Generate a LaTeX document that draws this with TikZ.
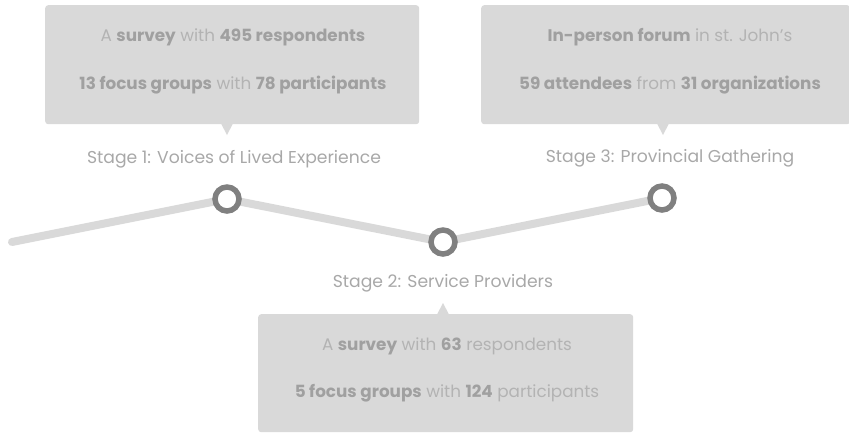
\documentclass[tikz,border=0pt]{standalone}
\usepackage{fontspec}
\setmainfont{Poppins}
\definecolor{boxfill}{HTML}{D9D9D9}
\definecolor{txtlight}{HTML}{B3B3B3}
\definecolor{txtbold}{HTML}{A0A0A0}
\definecolor{lbl}{HTML}{A8A8A8}
\definecolor{ring}{HTML}{808080}
\definecolor{track}{HTML}{D9D9D9}
\begin{document}
\begin{tikzpicture}[x=1pt,y=-1pt,
  infobox/.style={fill=boxfill, rounded corners=3pt, inner sep=0pt, anchor=north west},
  boxtext/.style={font=\fontsize{16.8}{18}\selectfont, text=txtlight, inner sep=0pt},
  stagelbl/.style={font=\fontsize{17.2}{19}\selectfont, text=lbl, inner sep=0pt},
  ringnode/.style={circle, draw=ring, line width=5.5pt, fill=white, minimum size=24pt, inner sep=0pt},
  trackline/.style={draw=track, line width=8pt, line cap=round, line join=round}
]
\newcommand{\bt}[1]{\textcolor{txtbold}{\textbf{#1}}}
\useasboundingbox (0,0) rectangle (849,432);

% boxes
\node[infobox, minimum width=374pt, minimum height=119pt] (b1) at (45,5) {};
\node[infobox, minimum width=369pt, minimum height=119pt] (b3) at (481,5) {};
\node[infobox, minimum width=375pt, minimum height=118pt] (b2) at (258,314) {};

% pointers
\coordinate (t1) at (227,135);
\coordinate (t3) at (663,135);
\coordinate (t2) at (443,303);
\fill[boxfill] (221,123.5) -- (t1) -- (233,123.5) -- cycle;
\fill[boxfill] (657,123.5) -- (t3) -- (669,123.5) -- cycle;
\fill[boxfill] (437,314.5) -- (t2) -- (449,314.5) -- cycle;

% box texts
\node[boxtext] (b1l1) at (233,37) {A \bt{survey} with \bt{495 respondents}};
\node[boxtext] (b1l2) at (233,85) {\bt{13 focus groups} with \bt{78 participants}};
\node[boxtext] (b3l1) at (670,37) {\bt{In-person forum} in st. John’s};
\node[boxtext] (b3l2) at (670,85) {\bt{59 attendees} from \bt{31 organizations}};
\node[boxtext] (b2l1) at (447,346) {A \bt{survey} with \bt{63} respondents};
\node[boxtext] (b2l2) at (447,393) {\bt{5 focus groups} with \bt{124} participants};

% stage labels
\node[stagelbl] (l1) at (234,159) {Stage 1: Voices of Lived Experience};
\node[stagelbl] (l3) at (670,158) {Stage 3: Provincial Gathering};
\node[stagelbl] (l2) at (443,283) {Stage 2: Service Providers};

% track
\coordinate (c0) at (12,242);
\coordinate (c1) at (227,199);
\coordinate (c2) at (443,242);
\coordinate (c3) at (662,198);
\draw[trackline] (c0) -- (c1) -- (c2) -- (c3);
\node[ringnode] (s1) at (c1) {};
\node[ringnode] (s2) at (c2) {};
\node[ringnode] (s3) at (c3) {};
\end{tikzpicture}
\end{document}
